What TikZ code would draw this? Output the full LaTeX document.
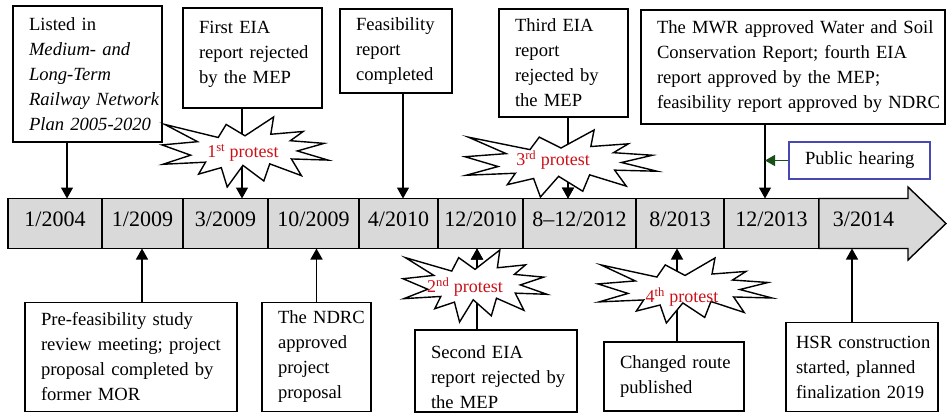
\documentclass[tikz,border=0pt]{standalone}
\usepackage{fontspec}
\setmainfont{Liberation Serif}
\usepackage{xcolor}
\usetikzlibrary{shapes,arrows.meta,positioning,calc}
\definecolor{bargray}{RGB}{217,217,217}
\definecolor{protestred}{RGB}{204,16,24}
\definecolor{hearblue}{RGB}{72,72,180}
\definecolor{heargreen}{RGB}{24,80,24}
\tikzset{explosion/.pic={
  \filldraw[fill=white, line width=1.4pt, line join=miter] (50,26.85) -- (67.23,0) -- (65.53,24.65) -- (85.09,20.63) -- (77.32,33.87) -- (97.67,37.67) -- (81.51,48.50) -- (100,61.53) -- (77.95,59.92) -- (84.00,83.77) -- (64.91,66.93) -- (61.33,91.38) -- (48.76,69.14) -- (39.28,100) -- (35.72,72.35) -- (22.05,81.56) -- (26.24,64.52) -- (0.63,67.53) -- (17.23,54.51) -- (0,39.88) -- (21.42,35.26) -- (1.71,10.63) -- (33.85,29.26) -- (38.67,10.63) -- cycle;
}}

\begin{document}
\begin{tikzpicture}[x=1pt, y=-1pt]
  \tikzstyle{box}=[rectangle, draw, line width=1.4pt, fill=white, align=left, inner xsep=2pt, inner ysep=0pt, font=\fontsize{18.6}{25}\selectfont, execute at begin node={\leftskip=14pt}]
  \tikzstyle{seg}=[rectangle, draw, fill=bargray, line width=1.4pt, minimum height=50pt, outer sep=0pt, inner sep=0pt, font=\fontsize{22}{24}\selectfont, text height=15pt, text depth=10pt]
  \tikzstyle{protest}=[inner sep=0pt, text=protestred, font=\fontsize{18}{20}\selectfont]
  \tikzstyle{arrow}=[-{Triangle[width=12pt,length=11pt]}, line width=1.4pt]
  \tikzstyle{hear}=[-{Triangle[width=11pt,length=10pt]}, line width=1.6pt, draw=heargreen, heargreen]

  \useasboundingbox (0,0) rectangle (947,413);

  % events above the time line
  \node[box, text width=145pt, minimum height=136pt] (b1) at (87.5,74) {Listed in\\ \textit{Medium- and}\\ \textit{Long-Term}\\ \textit{Railway Network}\\ \textit{Plan 2005-2020}};
  \node[box, text width=135pt, minimum height=100pt, text height=13pt, text depth=63pt] (b2) at (252.5,58) {First EIA\\ report rejected\\ by the MEP};
  \node[box, text width=108pt, minimum height=84pt] (b3) at (396,51) {Feasibility\\ report\\ completed};
  \node[box, text width=125pt, minimum height=108pt] (b4) at (563.5,63) {Third EIA\\ report\\ rejected by\\ the MEP};
  \node[box, text width=300pt, minimum height=114pt] (b5) at (793,67) {The MWR approved Water and Soil\\ Conservation Report; fourth EIA\\ report approved by the MEP;\\ feasibility report approved by NDRC};
  \node[box, draw=hearblue, text width=137pt, minimum height=37pt] (b6) at (859.5,160.5) {Public hearing};

  % events below the time line
  \node[box, text width=208pt, minimum height=109pt] (b7) at (131,357) {Pre-feasibility study\\ review meeting; project\\ proposal completed by\\ former MOR};
  \node[box, text width=105pt, minimum height=109pt] (b8) at (316.5,357) {The NDRC\\ approved\\ project\\ proposal};
  \node[box, text width=158pt, minimum height=82pt, text height=21pt, text depth=46pt] (b9) at (496,371) {Second EIA\\ report rejected by\\ the MEP};
  \node[box, text width=136pt, minimum height=69pt] (b10) at (674,376.5) {Changed route\\ published};
  \node[box, text width=148pt, minimum height=89pt, execute at begin node={\leftskip=8pt}] (b11) at (862,367) {HSR construction\\ started, planned\\ finalization 2019};

  % time line
  \node[seg, minimum width=94pt, anchor=west] (d1) at (8,223.5) {1/2004};
  \node[seg, minimum width=81pt, right=0pt of d1] (d2) {1/2009};
  \node[seg, minimum width=85pt, right=0pt of d2] (d3) {3/2009};
  \node[seg, minimum width=91pt, right=0pt of d3] (d4) {10/2009};
  \node[seg, minimum width=79pt, right=0pt of d4] (d5) {4/2010};
  \node[seg, minimum width=85pt, right=0pt of d5] (d6) {12/2010};
  \node[seg, minimum width=113pt, right=0pt of d6] (d7) {8--12/2012};
  \node[seg, minimum width=88pt, right=0pt of d7] (d8) {8/2013};
  \node[seg, minimum width=95pt, right=0pt of d8] (d9) {12/2013};
  \filldraw[fill=bargray, line width=1.4pt] (d9.north east) -- ++(89,0) -- ++(0,-11.5) -- ++(38,36.5) -- ++(-38,36.5) -- ++(0,-11.5) -- ++(-89,0) -- cycle;
  \node[seg, draw=none, fill=none, minimum width=89pt, right=0pt of d9] (d10) {3/2014};

  % connectors
  \coordinate (t1) at ([xshift=-20.5pt]b1.south);
  \coordinate (t2) at ([xshift=-10.5pt]b2.south);
  \coordinate (t3) at ([xshift=7pt]b3.south);
  \coordinate (t4) at ([xshift=4.5pt]b4.south);
  \coordinate (t5) at ([xshift=-28pt]b5.south);
  \coordinate (t7) at ([xshift=11pt]b7.north);
  \coordinate (t8) at (b8.north);
  \coordinate (t9) at ([xshift=-19pt]b9.north);
  \coordinate (t10) at ([xshift=3pt]b10.north);
  \coordinate (t11) at ([xshift=-10pt]b11.north);
  \draw[arrow] (t1) -- (t1 |- d1.north);
  \draw[arrow] (t2) -- (t2 |- d3.north);
  \draw[arrow] (t3) -- (t3 |- d5.north);
  \draw[arrow] (t4) -- (t4 |- d7.north);
  \draw[arrow] (t5) -- (t5 |- d9.north);
  \draw[arrow] (t7) -- (t7 |- d2.south);
  \draw[arrow] (t8) -- (t8 |- d4.south);
  \draw[arrow] (t9) -- (t9 |- d6.south);
  \draw[arrow] (t10) -- (t10 |- d8.south);
  \draw[arrow] (t11) -- (t11 |- d10.south);
  \draw[hear] (b6.west) -- (b6.west -| t5);

  % protests
  \pic[xscale=1.66, yscale=0.70] at (162,117) {explosion};
  \node[protest] (s1) at (243,153) {1\textsuperscript{st} protest};
  \pic[xscale=1.44, yscale=0.72] at (403,250) {explosion};
  \node[protest] (s2) at (465,287) {2\textsuperscript{nd} protest};
  \pic[xscale=1.92, yscale=0.67] at (465,130) {explosion};
  \node[protest] (s3) at (553,160) {3\textsuperscript{rd} protest};
  \pic[xscale=1.74, yscale=0.65] at (598,258) {explosion};
  \node[protest] (s4) at (682,297) {4\textsuperscript{th} protest};

  % arrow tips drawn over the protests
  \draw[arrow] ([yshift=12pt]t4 |- d7.north) -- (t4 |- d7.north);
  \draw[arrow] ([yshift=-12pt]t9 |- d6.south) -- (t9 |- d6.south);
\end{tikzpicture}
\end{document}
